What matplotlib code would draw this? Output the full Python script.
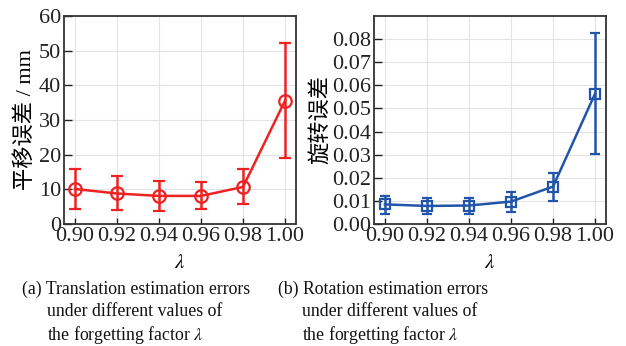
import matplotlib
matplotlib.use("Agg")
import matplotlib.pyplot as plt

plt.rcParams['font.family'] = ['Liberation Serif', 'Noto Sans CJK SC']
plt.rcParams['mathtext.fontset'] = 'stix'

lam = [0.90, 0.92, 0.94, 0.96, 0.98, 1.00]
xticks = [0.90, 0.92, 0.94, 0.96, 0.98, 1.00]
xticklabels = ["0.90", "0.92", "0.94", "0.96", "0.98", "1.00"]

# translation error (mm): mean, upper and lower whisker ends
trans_mean = [10.1, 8.8, 8.1, 8.1, 10.7, 35.6]
trans_hi = [15.8, 13.8, 12.4, 12.1, 15.8, 52.3]
trans_lo = [4.3, 3.9, 3.8, 4.2, 5.8, 18.9]

# rotation error
rot_mean = [0.0085, 0.0078, 0.0080, 0.0097, 0.0162, 0.0564]
rot_hi = [0.0122, 0.0114, 0.0114, 0.0138, 0.0220, 0.0825]
rot_lo = [0.0045, 0.0042, 0.0043, 0.0054, 0.0100, 0.0303]

W, H = 626, 346
fig = plt.figure(figsize=(W / 100, H / 100), dpi=100)


def style(ax):
    ax.set_xlim(0.8948, 1.0052)
    ax.set_xticks(xticks)
    ax.set_xticklabels(xticklabels)
    ax.grid(True, color="#e3e3e3", lw=0.8)
    ax.set_axisbelow(True)
    for s in ax.spines.values():
        s.set_color("#333333")
        s.set_linewidth(1.3)
    ax.tick_params(direction="in", length=6, width=1, labelsize=16, pad=2,
                   colors="#222222")
    ax.tick_params(axis="x", length=4)
    ax.set_xlabel(r"$\lambda$", fontsize=15, labelpad=6)


def err(mean, hi, lo):
    return [[m - l for m, l in zip(mean, lo)], [h - m for h, m in zip(hi, mean)]]


# (a) translation
ax1 = fig.add_axes([64 / W, 122 / H, 232 / W, 208 / H])
ax1.errorbar(lam, trans_mean, yerr=err(trans_mean, trans_hi, trans_lo),
             color="#ee2222", lw=1.8, marker="o", ms=9, mfc="none", mew=1.6,
             capsize=4, elinewidth=1.8, capthick=1.8)
ax1.set_ylim(0, 60)
ax1.set_yticks(range(0, 61, 10))
style(ax1)
ax1.set_ylabel("平移误差 / mm", fontsize=16, labelpad=2)

# (b) rotation
ax2 = fig.add_axes([374 / W, 122 / H, 232 / W, 208 / H])
ax2.errorbar(lam, rot_mean, yerr=err(rot_mean, rot_hi, rot_lo),
             color="#2255aa", lw=1.8, marker="s", ms=7, mfc="none", mew=1.6,
             capsize=3.5, elinewidth=1.8, capthick=1.8)
ax2.set_ylim(0, 0.09)
ax2.set_yticks([i / 100 for i in range(9)])
ax2.set_yticklabels([f"{i / 100:.2f}" for i in range(9)])
style(ax2)
ax2.set_ylabel("旋转误差", fontsize=16, labelpad=1)

# captions
cap = dict(fontsize=12.8, va="center", ha="left", color="#111111")
fig.text(22 / W, 1 - 289 / H, "(a) Translation estimation errors", **cap)
fig.text(47 / W, 1 - 312 / H, "under different values of", **cap)
fig.text(47 / W, 1 - 335 / H, r"the forgetting factor $\lambda$", **cap)
fig.text(278 / W, 1 - 289 / H, "(b) Rotation estimation errors", **cap)
fig.text(302 / W, 1 - 312 / H, "under different values of", **cap)
fig.text(302 / W, 1 - 335 / H, r"the forgetting factor $\lambda$", **cap)

fig.savefig("out.png", dpi=100)
